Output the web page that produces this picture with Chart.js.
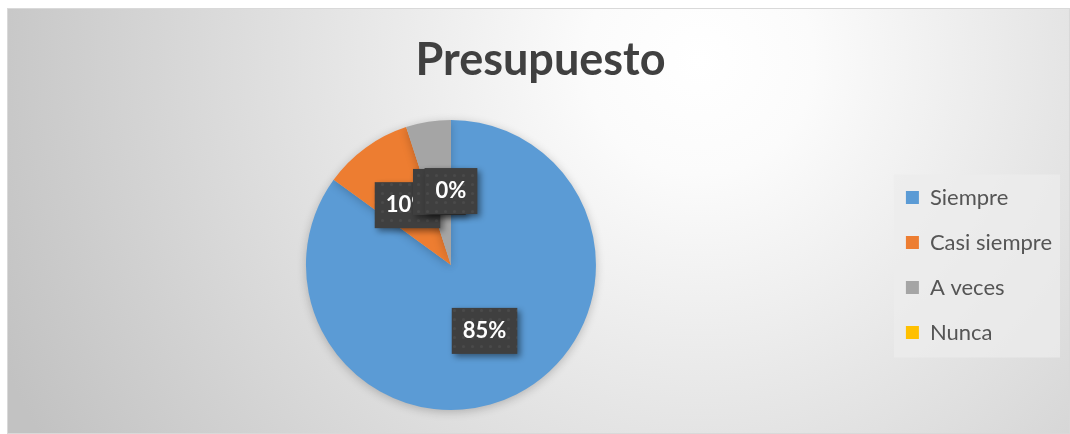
<!DOCTYPE html>
<html>
<head>
<meta charset="utf-8">
<script src="https://cdn.jsdelivr.net/npm/chart.js@4.4.1/dist/chart.umd.min.js"></script>
<style>
  html, body { margin: 0; padding: 0; background: #ffffff; }
  #wrap { width: 1070px; height: 434px; position: relative; }
</style>
</head>
<body>
<div id="wrap"><canvas id="c" width="1070" height="434"></canvas></div>
<script>
const chartTitle = "Presupuesto";
const categories = ["Siempre", "Casi siempre", "A veces", "Nunca"];
const values = [85, 10, 5, 0];
const percentLabels = ["85%", "10%", "5%", "0%"];
const sliceColors = ["#5B9BD5", "#ED7D31", "#A5A5A5", "#FFC000"];

// dotted pattern for label boxes
function makePattern(ctx) {
  const p = document.createElement('canvas');
  p.width = 9; p.height = 9;
  const pc = p.getContext('2d');
  pc.fillStyle = '#3f3f3f';
  pc.fillRect(0, 0, 9, 9);
  pc.fillStyle = '#4a4a4a';
  pc.beginPath(); pc.arc(4.5, 4.5, 1.6, 0, Math.PI * 2); pc.fill();
  return ctx.createPattern(p, 'repeat');
}

const backgroundPlugin = {
  id: 'bg',
  beforeDraw(chart) {
    const ctx = chart.ctx;
    ctx.save();
    ctx.fillStyle = '#ffffff';
    ctx.fillRect(0, 0, chart.width, chart.height);
    const g = ctx.createRadialGradient(700, 60, 0, 700, 60, 760);
    g.addColorStop(0, '#ffffff');
    g.addColorStop(0.15, '#fbfbfb');
    g.addColorStop(1, '#c2c2c2');
    ctx.fillStyle = g;
    ctx.fillRect(7, 8, chart.width - 7, chart.height - 8);
    ctx.strokeStyle = '#d9d9d9';
    ctx.lineWidth = 1;
    ctx.strokeRect(7.5, 8.5, chart.width - 8, chart.height - 9);
    // legend background
    const lg = chart.legend;
    if (lg && lg.legendHitBoxes && lg.legendHitBoxes.length) {
      const hb = lg.legendHitBoxes;
      const first = hb[0], last = hb[hb.length - 1];
      const x0 = first.left - 12;
      const y0 = first.top - 12;
      const x1 = chart.width - 10;
      const y1 = last.top + last.height + 14;
      ctx.fillStyle = 'rgba(236,236,236,0.75)';
      ctx.fillRect(x0, y0, x1 - x0, y1 - y0);
    }
    ctx.restore();
  }
};

const shadowPlugin = {
  id: 'pieShadow',
  beforeDatasetsDraw(chart) {
    const ctx = chart.ctx;
    ctx.save();
    ctx.shadowColor = 'rgba(0,0,0,0.22)';
    ctx.shadowBlur = 10;
    ctx.shadowOffsetX = 0;
    ctx.shadowOffsetY = 2;
  },
  afterDatasetsDraw(chart) {
    chart.ctx.restore();
  }
};

const labelPlugin = {
  id: 'boxLabels',
  afterDatasetsDraw(chart) {
    const ctx = chart.ctx;
    const meta = chart.getDatasetMeta(0);
    const pattern = makePattern(ctx);
    ctx.save();
    ctx.font = 'bold 22px Lato';
    ctx.textAlign = 'center';
    ctx.textBaseline = 'middle';
    meta.data.forEach((arc, i) => {
      const p = arc.getProps(['x', 'y', 'startAngle', 'endAngle', 'outerRadius'], true);
      const mid = (p.startAngle + p.endAngle) / 2;
      const d = p.outerRadius * 0.51;
      const cx = p.x + Math.cos(mid) * d;
      const cy = p.y + Math.sin(mid) * d;
      const txt = percentLabels[i];
      const w = ctx.measureText(txt).width + 22;
      const h = 46;
      ctx.save();
      ctx.shadowColor = 'rgba(0,0,0,0.45)';
      ctx.shadowBlur = 6;
      ctx.shadowOffsetX = 3;
      ctx.shadowOffsetY = 3;
      ctx.fillStyle = pattern;
      ctx.fillRect(cx - w / 2, cy - h / 2, w, h);
      ctx.restore();
      ctx.fillStyle = '#ffffff';
      ctx.fillText(txt, cx, cy);
    });
    ctx.restore();
  }
};

new Chart(document.getElementById('c'), {
  type: 'pie',
  data: {
    labels: categories,
    datasets: [{
      data: values,
      backgroundColor: sliceColors,
      borderWidth: 0
    }]
  },
  options: {
    responsive: false,
    animation: false,
    events: [],
    layout: { padding: { top: 8, bottom: 24, left: 19, right: 8 } },
    plugins: {
      title: {
        display: true,
        text: chartTitle,
        color: '#404040',
        font: { family: 'Lato', size: 45, weight: 'bold', lineHeight: 1.2 },
        padding: { top: 25, bottom: 33 }
      },
      legend: {
        position: 'right',
        fullSize: false,
        labels: {
          color: '#555555',
          font: { family: 'Lato', size: 22 },
          boxWidth: 13,
          boxHeight: 13,
          padding: 23
        }
      },
      tooltip: { enabled: false }
    }
  },
  plugins: [backgroundPlugin, shadowPlugin, labelPlugin]
});
</script>
</body>
</html>
